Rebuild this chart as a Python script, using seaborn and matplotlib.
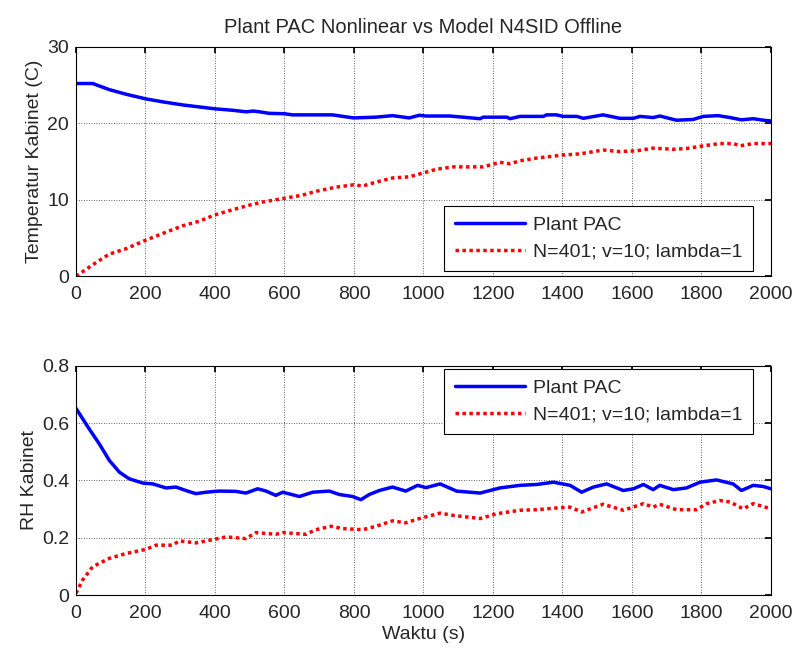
import numpy as np
import pandas as pd
import matplotlib
matplotlib.use("Agg")
import matplotlib.pyplot as plt
import seaborn as sns

sns.set_theme(style="white")
plt.rcParams['font.family'] = ['Liberation Sans', 'DejaVu Sans']

# ---- Top panel: cabinet temperature (C) ----
t_temp_plant = [0, 48, 96, 144, 200, 250, 307, 398, 451, 490, 510, 528, 556, 600, 623, 738,
                799, 863, 911, 959, 988, 1007, 1076, 1163, 1172, 1240, 1249, 1278, 1345,
                1354, 1383, 1402, 1441, 1460, 1517, 1565, 1604, 1623, 1661, 1680, 1728,
                1776, 1805, 1848, 1882, 1915, 1949, 1978, 2000]
temp_plant = [25.2, 25.2, 24.4, 23.8, 23.2, 22.8, 22.4, 21.9, 21.7, 21.5, 21.6, 21.5, 21.3,
              21.25, 21.1, 21.1, 20.7, 20.8, 21.0, 20.7, 21.05, 20.95, 20.95, 20.6, 20.8,
              20.8, 20.6, 20.9, 20.9, 21.1, 21.1, 20.9, 20.9, 20.65, 21.1, 20.65, 20.65,
              20.9, 20.75, 20.95, 20.4, 20.5, 20.9, 21.0, 20.75, 20.45, 20.6, 20.4, 20.3]

t_temp_model = [0, 48, 96, 144, 200, 250, 307, 355, 398, 451, 499, 537, 600, 652, 690, 748,
                799, 825, 863, 911, 959, 1007, 1038, 1086, 1172, 1220, 1249, 1278, 1326,
                1402, 1450, 1517, 1565, 1613, 1661, 1719, 1757, 1805, 1853, 1892, 1911,
                1949, 2000]
temp_model = [0.0, 1.5, 2.9, 3.6, 4.7, 5.6, 6.6, 7.2, 8.0, 8.7, 9.3, 9.7, 10.2, 10.6, 11.1,
              11.65, 11.95, 11.8, 12.3, 12.85, 13.0, 13.6, 14.0, 14.3, 14.3, 14.9, 14.7,
              15.1, 15.45, 15.85, 16.0, 16.5, 16.3, 16.4, 16.75, 16.6, 16.7, 17.05, 17.35,
              17.35, 17.05, 17.35, 17.35]

# ---- Bottom panel: cabinet relative humidity ----
t_rh_plant = [0, 38, 67, 96, 125, 153, 192, 221, 259, 288, 316, 345, 374, 412, 460, 489,
              523, 547, 575, 595, 643, 681, 729, 758, 796, 820, 844, 873, 911, 949, 983,
              1007, 1048, 1095, 1163, 1220, 1278, 1326, 1374, 1422, 1455, 1489, 1527,
              1575, 1604, 1633, 1661, 1680, 1719, 1757, 1796, 1843, 1891, 1915, 1949,
              1978, 2000]
rh_plant = [0.652, 0.58, 0.528, 0.47, 0.429, 0.406, 0.391, 0.388, 0.374, 0.377, 0.365,
            0.354, 0.359, 0.363, 0.362, 0.356, 0.371, 0.363, 0.348, 0.359, 0.344, 0.359,
            0.363, 0.351, 0.344, 0.333, 0.351, 0.365, 0.377, 0.363, 0.383, 0.375, 0.388,
            0.363, 0.356, 0.374, 0.383, 0.386, 0.394, 0.383, 0.359, 0.377, 0.388, 0.365,
            0.371, 0.386, 0.368, 0.383, 0.368, 0.374, 0.394, 0.402, 0.388, 0.365, 0.383,
            0.379, 0.371]

t_rh_model = [0, 19, 48, 96, 144, 200, 230, 278, 297, 345, 384, 432, 489, 518, 575, 595,
              662, 690, 734, 767, 825, 863, 911, 949, 988, 1048, 1086, 1163, 1211, 1278,
              1326, 1393, 1422, 1455, 1517, 1575, 1633, 1661, 1680, 1728, 1786, 1815,
              1853, 1882, 1920, 1949, 2000]
rh_model = [0.006, 0.052, 0.099, 0.128, 0.145, 0.159, 0.174, 0.174, 0.189, 0.182, 0.191,
            0.203, 0.197, 0.218, 0.212, 0.218, 0.212, 0.228, 0.24, 0.232, 0.228, 0.24,
            0.259, 0.252, 0.267, 0.286, 0.278, 0.267, 0.284, 0.296, 0.298, 0.305, 0.307,
            0.29, 0.317, 0.296, 0.319, 0.307, 0.317, 0.298, 0.298, 0.319, 0.33, 0.325,
            0.301, 0.319, 0.301]

label_plant = "Plant PAC"
label_model = "N=401; v=10; lambda=1"
title = "Plant PAC Nonlinear vs Model N4SID Offline"
xticks = list(range(0, 2001, 200))

fig = plt.figure(figsize=(7.94, 6.5), dpi=100)
ax1 = fig.add_axes([0.0957, 0.575, 0.8753, 0.353])
ax2 = fig.add_axes([0.0957, 0.0846, 0.8753, 0.3524])

FS = 14


def draw(ax, tp, plant, tm, model, ylim, yticks, ylabel, legend_loc, anchor):
    sns.lineplot(x=tp, y=plant, ax=ax, color="#0000ff", linewidth=2.5, label=label_plant)
    sns.lineplot(x=tm, y=model, ax=ax, color="#ff0000", linewidth=2.5,
                 linestyle=(0, (1, 1)), label=label_model)
    ax.set_xlim(0, 2000)
    ax.set_ylim(*ylim)
    ax.set_xticks(xticks)
    ax.set_yticks(yticks)
    ax.tick_params(axis='both', labelsize=FS, direction='in', length=4, color='black',
                   top=True, right=True)
    ax.tick_params(axis='x', pad=7)
    ax.tick_params(axis='y', pad=5)
    ax.grid(True, color='#333333', linestyle=(0, (1, 2)), linewidth=0.6)
    for s in ax.spines.values():
        s.set_color('black')
        s.set_linewidth(0.8)
    ax.set_ylabel(ylabel, fontsize=FS, labelpad=3)
    leg = ax.legend(loc=legend_loc, bbox_to_anchor=anchor, borderaxespad=0,
                    fontsize=FS, frameon=True, fancybox=False, edgecolor='black',
                    handlelength=3.6, handletextpad=0.4, borderpad=0.55,
                    labelspacing=0.45)
    leg.get_frame().set_linewidth(0.8)
    leg.get_frame().set_alpha(1)


draw(ax1, t_temp_plant, temp_plant, t_temp_model, temp_model, (0, 30), [0, 10, 20, 30],
     "Temperatur Kabinet (C)", "lower right", (0.974, 0.022))
draw(ax2, t_rh_plant, rh_plant, t_rh_model, rh_model, (0, 0.8), [0, 0.2, 0.4, 0.6, 0.8],
     "RH Kabinet", "upper right", (0.974, 0.987))
ax2.set_yticklabels(["0", "0.2", "0.4", "0.6", "0.8"])
ax2.set_xlabel("Waktu (s)", fontsize=FS, labelpad=3)
ax1.set_title(title, fontsize=14.5, pad=10)

fig.savefig("out.png", dpi=100)
